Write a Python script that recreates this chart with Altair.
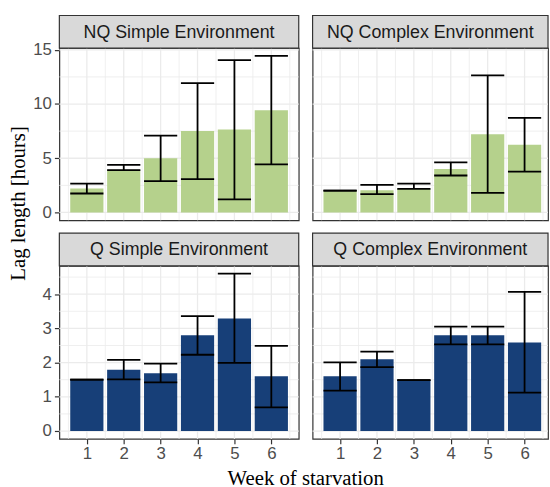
import altair as alt
import pandas as pd

weeks = [1, 2, 3, 4, 5, 6]
panel_names = ["NQ Simple Environment", "NQ Complex Environment",
               "Q Simple Environment", "Q Complex Environment"]

nq_simple_mean = [2.2, 3.93, 5.0, 7.52, 7.64, 9.42]
nq_simple_lo = [1.75, 3.9, 2.9, 3.08, 1.21, 4.44]
nq_simple_hi = [2.67, 4.38, 7.09, 11.92, 14.04, 14.43]

nq_complex_mean = [2.02, 2.05, 2.18, 4.01, 7.21, 6.25]
nq_complex_lo = [2.02, 1.69, 2.17, 3.41, 1.81, 3.77]
nq_complex_hi = [2.02, 2.54, 2.66, 4.62, 12.65, 8.72]

q_simple_mean = [1.5, 1.79, 1.69, 2.8, 3.29, 1.6]
q_simple_lo = [1.5, 1.51, 1.42, 2.23, 1.99, 0.69]
q_simple_hi = [1.5, 2.08, 1.97, 3.36, 4.6, 2.49]

q_complex_mean = [1.6, 2.1, 1.49, 2.8, 2.8, 2.59]
q_complex_lo = [1.18, 1.87, 1.49, 2.53, 2.53, 1.12]
q_complex_hi = [2.01, 2.32, 1.49, 3.05, 3.05, 4.07]

top_major = [0, 5, 10, 15]
top_minor = [2.5, 7.5, 12.5]
bottom_major = [0, 1, 2, 3, 4]
bottom_minor = [0.5, 1.5, 2.5, 3.5, 4.5]
x_minor = [0.5, 1.5, 2.5, 3.5, 4.5, 5.5, 6.5]

x_title = "Week of starvation"
y_title = "Lag length [hours]"

GREEN = "#B5D18C"
BLUE = "#173F78"
GRID = "#EBEBEB"
DARK = "#333333"
TICKLAB = "#4D4D4D"

STRIP_H = 33
LEFT_W = 242
RIGHT_W = 238
UNIT = 37.3
X0 = 0.255
TOP_H = 174
BOT_H = 175
top_dom = [-0.72, 15.15]
bot_dom = [-0.23, 4.83]

ONE = alt.Data(values=[{}])


def make_panel(name, mean, lo, hi, color, ydomain, ymajor, yminor, width, height,
               show_x, show_y):
    df = pd.DataFrame({"week": weeks, "mean": mean, "lo": lo, "hi": hi})
    xdomain = [X0, X0 + width / UNIT]
    xs = alt.Scale(domain=xdomain, nice=False, zero=False)
    ys = alt.Scale(domain=ydomain, nice=False, zero=False)
    if show_x:
        xaxis = alt.Axis(values=weeks, title=None, grid=False, domain=False,
                         tickColor=DARK, tickSize=5, tickWidth=1.2,
                         labelColor=TICKLAB, labelFontSize=17, labelPadding=2,
                         labelFont="Liberation Sans", format="d")
    else:
        xaxis = None
    if show_y:
        yaxis = alt.Axis(values=ymajor, title=None, grid=False, domain=False,
                         tickColor=DARK, tickSize=5, tickWidth=1.2,
                         labelColor=TICKLAB, labelFontSize=17, labelPadding=3,
                         labelFont="Liberation Sans", format="d")
    else:
        yaxis = None

    xg = pd.DataFrame({"g": weeks})
    xgm = pd.DataFrame({"g": x_minor})
    yg = pd.DataFrame({"g": ymajor})
    ygm = pd.DataFrame({"g": yminor})

    vmaj = alt.Chart(xg).mark_rule(color=GRID, strokeWidth=1.3).encode(
        x=alt.X("g:Q", scale=xs, axis=xaxis))
    vmin = alt.Chart(xgm).mark_rule(color=GRID, strokeWidth=0.8).encode(
        x=alt.X("g:Q", scale=xs, axis=xaxis))
    hmaj = alt.Chart(yg).mark_rule(color=GRID, strokeWidth=1.3).encode(
        y=alt.Y("g:Q", scale=ys, axis=yaxis))
    hmin = alt.Chart(ygm).mark_rule(color=GRID, strokeWidth=0.8).encode(
        y=alt.Y("g:Q", scale=ys, axis=yaxis))

    base = alt.Chart(df).transform_calculate(
        xl="datum.week - 0.45", xr="datum.week + 0.45", zero="0")

    bars = base.mark_rect(color=color).encode(
        x=alt.X("xl:Q", scale=xs, axis=xaxis), x2="xr:Q",
        y=alt.Y("zero:Q", scale=ys, axis=yaxis), y2="mean:Q")
    stem = base.mark_rule(color="black", strokeWidth=1.8).encode(
        x=alt.X("week:Q", scale=xs, axis=xaxis),
        y=alt.Y("lo:Q", scale=ys, axis=yaxis), y2="hi:Q")
    cap_hi = base.mark_rule(color="black", strokeWidth=1.8).encode(
        x=alt.X("xl:Q", scale=xs, axis=xaxis), x2="xr:Q",
        y=alt.Y("hi:Q", scale=ys, axis=yaxis))
    cap_lo = base.mark_rule(color="black", strokeWidth=1.8).encode(
        x=alt.X("xl:Q", scale=xs, axis=xaxis), x2="xr:Q",
        y=alt.Y("lo:Q", scale=ys, axis=yaxis))

    strip_box = alt.Chart(ONE).mark_rect(
        fill="#D9D9D9", stroke=DARK, strokeWidth=1.2
    ).encode(x=alt.value(0), x2=alt.value(width), y=alt.value(-STRIP_H), y2=alt.value(0))
    strip_txt = alt.Chart(ONE).mark_text(
        font="Liberation Sans", fontSize=18, color="#1A1A1A", baseline="middle", align="center"
    ).encode(x=alt.value(width / 2), y=alt.value(-STRIP_H / 2 + 1), text=alt.value(name))

    return alt.layer(vmin, vmaj, hmin, hmaj, bars, stem, cap_hi, cap_lo,
                     strip_box, strip_txt).properties(width=width, height=height)


tl = make_panel(panel_names[0], nq_simple_mean, nq_simple_lo, nq_simple_hi, GREEN, top_dom,
                top_major, top_minor, LEFT_W, TOP_H, False, True)
tr = make_panel(panel_names[1], nq_complex_mean, nq_complex_lo, nq_complex_hi, GREEN, top_dom,
                top_major, top_minor, RIGHT_W, TOP_H, False, False)
bl = make_panel(panel_names[2], q_simple_mean, q_simple_lo, q_simple_hi, BLUE, bot_dom,
                bottom_major, bottom_minor, LEFT_W, BOT_H, True, True)
br = make_panel(panel_names[3], q_complex_mean, q_complex_lo, q_complex_hi, BLUE, bot_dom,
                bottom_major, bottom_minor, RIGHT_W, BOT_H, True, False)

top_row = alt.hconcat(tl, tr, spacing=10)
bot_row = alt.hconcat(bl, br, spacing=10)
panels = alt.vconcat(top_row, bot_row, spacing=9)

MAIN_W = LEFT_W + 12 + RIGHT_W
xtitle = alt.Chart(ONE).mark_text(
    font="Liberation Serif", fontSize=21, color="black", baseline="middle", align="center"
).encode(
    x=alt.value(249), y=alt.value(10), text=alt.value(x_title)
).properties(width=MAIN_W, height=20, view=alt.ViewBackground(stroke="transparent"))

main = alt.vconcat(panels, xtitle, spacing=5)

ytitle = alt.Chart(ONE).mark_text(
    font="Liberation Serif", fontSize=21, color="black", baseline="middle", align="center",
    angle=270
).encode(
    x=alt.value(18), y=alt.value(157), text=alt.value(y_title)
).properties(width=28, height=394, view=alt.ViewBackground(stroke="transparent"))

chart = alt.hconcat(ytitle, main, spacing=2).properties(
    padding={"left": 0, "top": 11, "right": 0, "bottom": 0}
).configure(font="Liberation Sans").configure_view(stroke=DARK, strokeWidth=1.2)

chart.save("out.html", embed_options={"renderer": "svg", "actions": False})
